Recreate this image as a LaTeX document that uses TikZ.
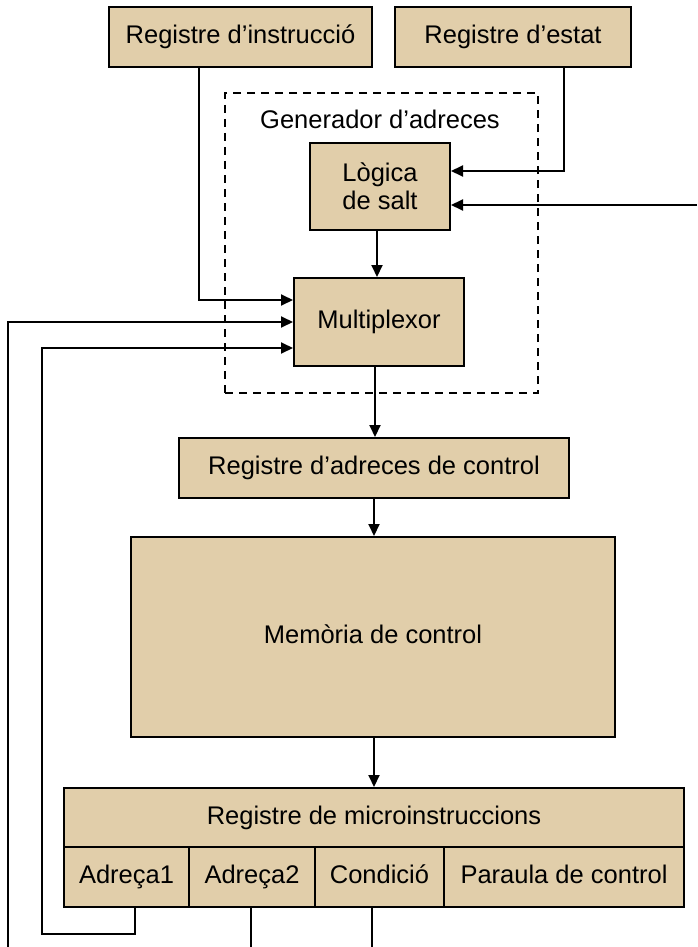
\documentclass[tikz,border=0pt]{standalone}
\usepackage{fontspec}
\setmainfont{Liberation Sans}
\usetikzlibrary{arrows.meta}
\definecolor{boxtan}{RGB}{225,206,170}
\begin{document}
\begin{tikzpicture}[x=1pt,y=-1pt,
  box/.style={draw=black,line width=2pt,fill=boxtan,inner sep=0pt,
    font=\fontsize{25.5}{28}\selectfont,align=center},
  cell/.style={box,text height=18.5pt,text depth=5.5pt},
  conn/.style={line width=2pt},
  arr/.style={conn,-{Triangle[length=12pt,width=11pt]}}]
\useasboundingbox (0,0) rectangle (697,947);
% dashed generator frame
\node[draw,line width=1.6pt,dash pattern=on 8pt off 6pt,minimum width=313pt,
  minimum height=300pt,inner sep=0pt] (gen) at (381.5,243) {};
\node[font=\fontsize{25.5}{28}\selectfont,inner sep=0pt] (gentxt) at (380,119) {Generador d’adreces};
% boxes
\node[cell,minimum width=263pt,minimum height=60pt] (ri) at (240.5,37) {Registre d’instrucció};
\node[cell,minimum width=236pt,minimum height=60pt] (re) at (513,37) {Registre d’estat};
\node[box,minimum width=140pt,minimum height=87pt] (ls) at (380,186.5) {Lògica\\de salt};
\node[cell,minimum width=170pt,minimum height=88pt] (mux) at (379,322) {Multiplexor};
\node[cell,minimum width=390pt,minimum height=60pt] (rac) at (374,468) {Registre d’adreces de control};
\node[cell,minimum width=484pt,minimum height=200pt] (mem) at (373,637) {Memòria de control};
\node[cell,minimum width=620pt,minimum height=59pt] (rmi) at (374,817.5) {Registre de microinstruccions};
\node[cell,minimum width=125pt,minimum height=60pt] (a1) at (126.5,877) {Adreça1};
\node[cell,minimum width=126pt,minimum height=60pt] (a2) at (252,877) {Adreça2};
\node[cell,minimum width=129pt,minimum height=60pt] (cond) at (379.5,877) {Condició};
\node[cell,minimum width=240pt,minimum height=60pt] (par) at (564,877) {Paraula de control};
% free ends
\coordinate (rin) at (697,205);
\coordinate (b1) at (8,947);
\coordinate (c42) at (42,934);
\coordinate (e2) at (251,947);
\coordinate (e3) at (372,947);
% connectors
\draw[arr] ([xshift=-41.5pt]ri.south) |- ([yshift=22pt]mux.west);
\draw[arr] ([xshift=51pt]re.south) |- ([yshift=15.5pt]ls.east);
\draw[arr] (rin) -- (ls.east |- rin);
\draw[arr] ([xshift=-3pt]ls.south) -- ([xshift=-3pt]ls.south |- mux.north);
\draw[arr] (b1) |- (mux.west);
\draw[arr] ([xshift=8.5pt]a1.south) |- (c42) |- ([yshift=-26pt]mux.west);
\draw[conn] (a2.south -| e2) -- (e2);
\draw[conn] (cond.south -| e3) -- (e3);
\draw[arr] ([xshift=-4pt]mux.south) -- ([xshift=-4pt]mux.south |- rac.north);
\draw[arr] (rac.south) -- (rac.south |- mem.north);
\draw[arr] ([xshift=1pt]mem.south) -- ([xshift=1pt]mem.south |- rmi.north);
\end{tikzpicture}
\end{document}
